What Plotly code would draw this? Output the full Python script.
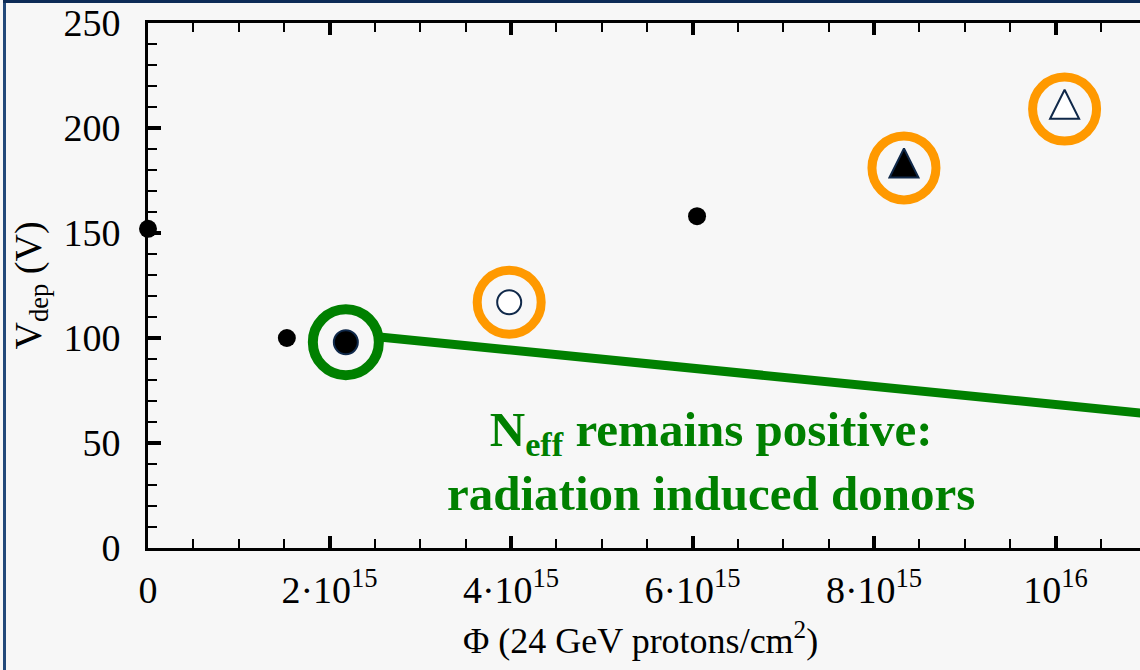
import plotly.graph_objects as go

# Full depletion voltage versus fluence (24 GeV protons)
fluence_plain = [0, 1.53e15, 6.05e15]
vdep_plain = [152, 100, 158]

fluence_filled_circle = [2.18e15]
vdep_filled_circle = [98]

fluence_open_circle = [3.98e15]
vdep_open_circle = [117]

fluence_filled_tri = [8.33e15]
vdep_filled_tri = [181]

fluence_open_tri = [1.01e16]
vdep_open_tri = [209]

# Points singled out with rings
fluence_orange = [3.98e15, 8.33e15, 1.01e16]
vdep_orange = [117, 181, 209]
fluence_green = [2.18e15]
vdep_green = [98]

# Pointer line leading away from the green ring
pointer_fluence = [2.55e15, 1.1e16]
pointer_vdep = [100.5, 64]

x_tickvals = [0, 2e15, 4e15, 6e15, 8e15, 1e16]
x_ticktext = ["0", "2·10<sup>15</sup>", "4·10<sup>15</sup>", "6·10<sup>15</sup>",
              "8·10<sup>15</sup>", "10<sup>16</sup>"]
y_tickvals = [0, 50, 100, 150, 200, 250]

NAVY = "#10294a"
ORANGE = "#ff9900"
GREEN = "#008000"
BG = "#f7f7f7"
FONT = "Liberation Serif"

fig = go.Figure()

# pointer line
fig.add_trace(go.Scatter(x=pointer_fluence, y=pointer_vdep, mode="lines",
                         line=dict(color=GREEN, width=9), hoverinfo="skip"))

# rings
fig.add_trace(go.Scatter(x=fluence_orange, y=vdep_orange, mode="markers",
                         marker=dict(symbol="circle-open", size=64, color=ORANGE,
                                     line=dict(width=9, color=ORANGE)),
                         cliponaxis=False, hoverinfo="skip"))
fig.add_trace(go.Scatter(x=fluence_green, y=vdep_green, mode="markers",
                         marker=dict(symbol="circle-open", size=66, color=GREEN,
                                     line=dict(width=10, color=GREEN)),
                         cliponaxis=False, hoverinfo="skip"))

# measurements
fig.add_trace(go.Scatter(x=fluence_plain, y=vdep_plain, mode="markers",
                         marker=dict(symbol="circle", size=18, color="black"),
                         cliponaxis=False))
fig.add_trace(go.Scatter(x=fluence_filled_circle, y=vdep_filled_circle, mode="markers",
                         marker=dict(symbol="circle", size=24, color="black",
                                     line=dict(width=2, color=NAVY)),
                         cliponaxis=False))
fig.add_trace(go.Scatter(x=fluence_open_circle, y=vdep_open_circle, mode="markers",
                         marker=dict(symbol="circle", size=24, color="white",
                                     line=dict(width=2, color=NAVY)),
                         cliponaxis=False))
tri_size = 29
tri_marker = dict(symbol="arrow-down", size=tri_size, angle=180,
                  standoff=tri_size * 2 / 3, line=dict(width=2, color=NAVY))
fig.add_trace(go.Scatter(x=fluence_filled_tri, y=vdep_filled_tri, mode="markers",
                         marker=dict(tri_marker, color="black"), cliponaxis=False))
fig.add_trace(go.Scatter(x=fluence_open_tri, y=vdep_open_tri, mode="markers",
                         marker=dict(tri_marker, color="white"), cliponaxis=False))

tick_font = dict(family=FONT, size=38, color="black")

fig.update_layout(
    width=1140, height=670,
    margin=dict(l=148, r=0, t=23, b=122),
    paper_bgcolor=BG, plot_bgcolor=BG,
    showlegend=False,
    xaxis=dict(
        range=[0, 1.0931e16], tickmode="array", tickvals=x_tickvals, ticktext=x_ticktext,
        ticks="inside", ticklen=12, tickwidth=4, tickcolor="black",
        minor=dict(dtick=5e14, tick0=0, ticks="inside", ticklen=9, tickwidth=2,
                   tickcolor="black"),
        showline=True, linewidth=3, linecolor="black", mirror="ticks",
        showgrid=False, zeroline=False, tickfont=tick_font, ticklabelstandoff=6,
    ),
    yaxis=dict(
        range=[0, 250], tickvals=y_tickvals,
        ticks="inside", ticklen=13, tickwidth=4, tickcolor="black",
        minor=dict(dtick=10, tick0=0, ticks="inside", ticklen=9, tickwidth=2,
                   tickcolor="black"),
        showline=True, linewidth=3, linecolor="black",
        showgrid=False, zeroline=False, tickfont=tick_font, ticklabelstandoff=17,
    ),
    yaxis2=dict(
        overlaying="y", side="right", range=[0, 250], tickvals=y_tickvals,
        ticks="inside", ticklen=13, tickwidth=4, tickcolor="black",
        minor=dict(dtick=10, tick0=0, ticks="inside", ticklen=9, tickwidth=2,
                   tickcolor="black"),
        showline=False, showgrid=False, zeroline=False, showticklabels=False,
    ),
    annotations=[
        dict(text="V<sub>dep</sub> (V)", xref="paper", yref="paper",
             x=(30 - 148) / 992, y=0.5, xanchor="center", yanchor="middle",
             textangle=-90, showarrow=False,
             font=dict(family=FONT, size=38, color="black")),
        dict(text="Φ (24 GeV protons/cm<sup>2</sup>)", xref="paper", yref="paper",
             x=(640 - 148) / 992, y=(548 - 638) / 525, xanchor="center", yanchor="middle",
             showarrow=False, font=dict(family=FONT, size=36, color="black")),
        dict(text="N<sub>eff</sub> remains positive:<br>radiation induced donors",
             xref="x", yref="y", x=6.2e15, y=41, xanchor="center", yanchor="middle",
             showarrow=False,
             font=dict(family=FONT, size=49, color=GREEN, weight="bold")),
    ],
    shapes=[
        dict(type="line", xref="paper", yref="paper",
             x0=(4.5 - 148) / 992, x1=(4.5 - 148) / 992,
             y0=(548 - 672) / 525, y1=(548 - 0) / 525,
             line=dict(color="#23497a", width=3)),
        dict(type="line", xref="paper", yref="paper",
             x0=(3 - 148) / 992, x1=1.01,
             y0=(548 - 1.5) / 525, y1=(548 - 1.5) / 525,
             line=dict(color="#0d2b57", width=3)),
    ],
)

fig.write_html("out.html")
